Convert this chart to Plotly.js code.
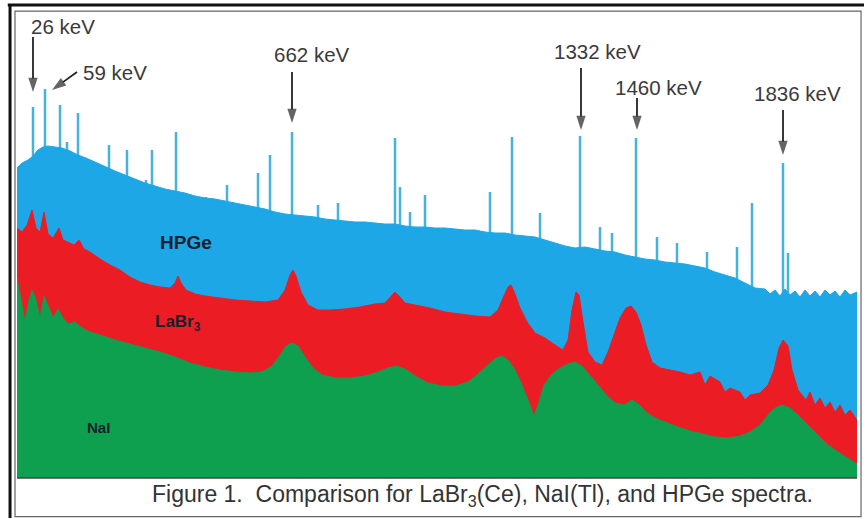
<!DOCTYPE html>
<html>
<head>
<meta charset="utf-8">
<script src="https://cdn.plot.ly/plotly-3.0.1.min.js"></script>
<style>html,body{margin:0;padding:0;background:#fff;}#chart{width:864px;height:518px;}</style>
</head>
<body>
<div id="chart"></div>
<script>
// ---- HPGe continuum (channel, counts) ----
const hpgeCh = [0,5,11,16,21,26,31,38,45,53,61,69,78,88,98,108,118,128,138,148,158,168,178,188,198,208,218,228,238,248,258,268,278,288,298,308,318,328,338,348,358,368,378,388,398,408,418,428,438,448,458,468,478,488,498,508,518,528,538,548,558,568,578,588,598,608,618,628,638,648,658,668,678,688,698,708,718,728,738,748,753,758,763,768,773,778,783,788,793,798,803,808,813,818,823,828,833,840];
const hpgeCounts = [310,315,318,322,328,331,332,331,330,327,323,320,316,311,307,303,299,295,292,289,287,285,282,280,279,277,275,273,271,269,266,264,263,262,261,259,258,257,256,256,255,254,254,252,251,251,250,250,249,248,248,246,245,245,243,242,241,238,235,232,230,231,229,227,226,223,221,219,218,216,215,214,212,210,206,203,200,195,190,189,184,188,182,189,183,187,181,188,182,187,181,188,183,187,181,188,183,186];
// ---- HPGe narrow lines (channel, peak counts) ----
const spikeCh = [16,28,43,50,61,92,110,129,135,159,189,210,241,253,275,301,321,378,383,393,408,473,495,523,563,583,595,619,640,660,690,720,735,766,771];
const spikeTop = [371,389,373,336,365,333,328,298,328,346,281,293,305,323,346,273,275,340,291,266,283,286,341,265,342,251,245,340,241,235,226,231,275,315,225];
// ---- LaBr3(Ce) ----
const labrCh = [0,5,10,15,19,23,27,31,36,42,46,51,57,62,67,73,83,93,103,113,123,133,143,153,158,161,164,169,178,188,203,218,233,248,261,268,273,276,279,284,291,301,313,328,343,358,368,374,378,382,388,398,413,428,443,458,473,481,486,491,494,498,503,510,518,528,538,546,551,555,559,562,566,571,578,585,591,597,603,609,614,619,624,629,635,643,653,663,673,683,688,693,703,708,713,723,728,733,743,751,757,762,766,771,775,781,789,793,798,803,808,813,818,823,828,833,840];
const labrCounts = [250,246,253,268,250,246,266,244,240,250,238,236,233,238,229,226,219,213,208,201,196,193,191,190,195,202,195,188,184,182,180,178,177,176,178,188,203,208,202,186,173,168,168,169,171,174,175,182,186,182,175,173,170,166,164,162,161,168,180,191,193,184,170,156,145,140,133,128,138,168,186,183,156,126,116,113,126,143,160,170,172,166,153,133,116,110,108,106,103,106,93,102,96,86,90,86,78,83,85,93,108,130,138,132,108,88,78,86,73,80,70,76,66,73,63,68,58];
// ---- NaI(Tl) ----
const naiCh = [0,4,8,12,15,19,23,27,31,36,41,46,51,58,65,73,83,98,113,128,143,158,173,188,203,218,233,245,255,263,269,275,281,288,296,305,318,333,348,361,371,379,388,398,411,425,438,451,461,471,479,485,491,498,505,511,517,521,527,535,543,551,558,565,573,581,589,598,608,615,621,629,638,648,661,673,685,698,711,723,733,743,751,758,765,773,781,791,801,811,821,831,840];
const naiCounts = [200,178,156,178,188,178,160,182,173,160,169,160,154,156,150,146,143,138,134,130,126,121,115,111,108,106,105,106,112,123,132,135,132,121,110,103,100,100,102,106,110,112,109,102,95,92,92,96,104,113,120,122,118,108,93,78,62,73,93,104,110,114,116,112,103,93,83,75,73,78,74,66,60,56,51,47,44,41,40,42,46,53,63,70,73,70,63,53,43,33,26,20,14];
// ---- labels ----
const peakLabels = ['26 keV','59 keV','662 keV','1332 keV','1460 keV','1836 keV'];
const seriesNames = ['HPGe','LaBr<sub>3</sub>','NaI'];
const captionText = 'Figure 1.  Comparison for LaBr<sub>3</sub>(Ce), NaI(Tl), and HPGe spectra.';
// arrow geometry: tail and tip in data units
const arrowTailX = [16,60,275,564,620,766];
const arrowTailY = [441,406,406,410,380,368];
const arrowTipX  = [16,35,275,564,620,766];
const arrowTipY  = [386,388,355,348,348,323];

const FONT = 'Liberation Sans, Arial, Helvetica, sans-serif';

const sx = [], sy = [];
spikeCh.forEach((c, i) => { sx.push(c, c, null); sy.push(0, spikeTop[i], null); });

const ax = [], ay = [], asz = [];
arrowTipX.forEach((t, i) => {
  ax.push(arrowTailX[i], arrowTipX[i], null);
  ay.push(arrowTailY[i], arrowTipY[i], null);
  asz.push(0, 15, 0);
});

const traces = [
  {x: sx, y: sy, type: 'scatter', mode: 'lines', line: {color: 'rgb(70,178,224)', width: 2.5}, hoverinfo: 'skip'},
  {x: hpgeCh, y: hpgeCounts, type: 'scatter', mode: 'lines', fill: 'tozeroy', fillcolor: '#1ea7e6', line: {color: '#1ea7e6', width: 1}, hoverinfo: 'skip'},
  {x: labrCh, y: labrCounts, type: 'scatter', mode: 'lines', fill: 'tozeroy', fillcolor: '#ec1c24', line: {color: '#ec1c24', width: 1}, hoverinfo: 'skip'},
  {x: naiCh, y: naiCounts, type: 'scatter', mode: 'lines', fill: 'tozeroy', fillcolor: '#0e9f4f', line: {color: '#0e9f4f', width: 1}, hoverinfo: 'skip'},
  {x: ax, y: ay, type: 'scatter', mode: 'lines+markers', cliponaxis: false,
   line: {color: '#222', width: 1.8},
   marker: {symbol: 'arrow', angleref: 'previous', size: asz, color: '#222', line: {width: 0}},
   hoverinfo: 'skip'}
];

const labelPos = [[12,452,'left'],[64,406,'left'],[295,424,'center'],[580,427,'center'],[641,391,'center'],[780,385,'center']];
const annotations = [];
peakLabels.forEach((lab, i) => {
  annotations.push({x: labelPos[i][0], y: labelPos[i][1], xref: 'x', yref: 'y', text: lab, showarrow: false,
    xanchor: labelPos[i][2], yanchor: 'middle', font: {family: FONT, size: 20.5, color: '#3a3a3a'}});
});
const seriesPos = [[169,236,19],[161,155,17],[81,51,15]];
seriesNames.forEach((n, i) => {
  annotations.push({x: seriesPos[i][0], y: seriesPos[i][1], xref: 'x', yref: 'y', text: '<b>' + n + '</b>', showarrow: false,
    xanchor: 'center', yanchor: 'middle', font: {family: FONT, size: seriesPos[i][2], color: '#15202c'}});
});
annotations.push({x: 0.5536, y: -0.0365, xref: 'paper', yref: 'paper', text: captionText, showarrow: false,
  xanchor: 'center', yanchor: 'middle', font: {family: FONT, size: 23, color: '#333'}});

const layout = {
  width: 864, height: 518,
  margin: {l: 17, r: 7, t: 12, b: 40},
  paper_bgcolor: '#fff', plot_bgcolor: '#fff',
  showlegend: false,
  xaxis: {range: [0, 840], visible: false, fixedrange: true},
  yaxis: {range: [0, 466], visible: false, fixedrange: true},
  annotations: annotations,
  shapes: [
    {type: 'line', xref: 'paper', yref: 'paper', x0: -0.0083, x1: -0.0083, y0: -0.09, y1: 1.016, line: {color: '#111', width: 3}},
    {type: 'line', xref: 'paper', yref: 'paper', x0: -0.011, x1: 1.01, y0: 1.015, y1: 1.015, line: {color: '#111', width: 3}},
    {type: 'rect', xref: 'paper', yref: 'paper', x0: -0.0024, x1: 1.0048, y0: -0.083, y1: 1.002, line: {color: '#666', width: 1.2}},
    {type: 'line', xref: 'paper', yref: 'paper', x0: 0, x1: 1, y0: 0, y1: 0, line: {color: '#444', width: 1.5}}
  ]
};

Plotly.newPlot('chart', traces, layout, {displayModeBar: false, staticPlot: true});
</script>
</body>
</html>
